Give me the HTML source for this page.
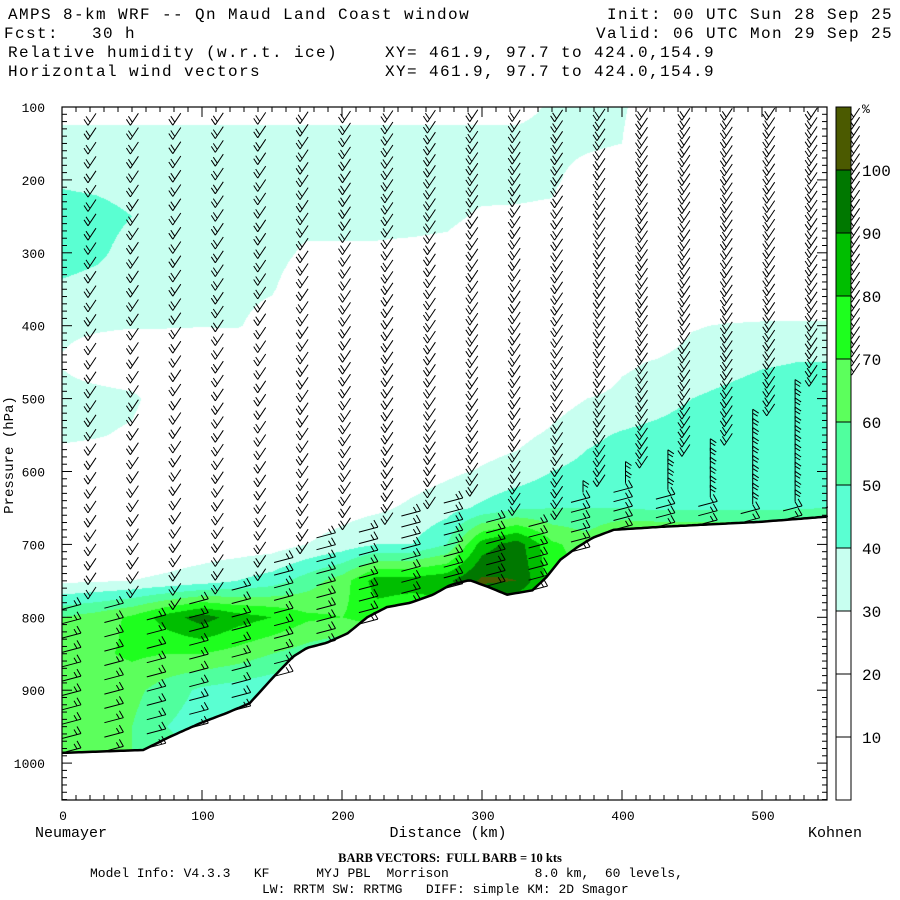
<!DOCTYPE html>
<html><head><meta charset="utf-8">
<style>
html,body{margin:0;padding:0;background:#fff;}
#wrap{position:relative;width:900px;height:900px;overflow:hidden;background:#fff;}
canvas{position:absolute;left:62px;top:107px;}
svg{position:absolute;left:0;top:0;}
text{font-family:"Liberation Mono",monospace;fill:#000;}
</style></head>
<body>
<div id="wrap">
<canvas id="rh" width="765" height="693"></canvas>
<svg id="svg" width="900" height="900">
<g font-size="16" letter-spacing="1.4">
<text x="8" y="19" xml:space="preserve">AMPS 8-km WRF -- Qn Maud Land Coast window</text>
<text x="893" y="19" text-anchor="end" xml:space="preserve">Init: 00 UTC Sun 28 Sep 25</text>
<text x="4" y="38" xml:space="preserve">Fcst:   30 h</text>
<text x="893" y="38" text-anchor="end" xml:space="preserve">Valid: 06 UTC Mon 29 Sep 25</text>
<text x="8" y="57">Relative humidity (w.r.t. ice)</text>
<text x="385" y="57">XY= 461.9, 97.7 to 424.0,154.9</text>
<text x="8" y="76">Horizontal wind vectors</text>
<text x="385" y="76">XY= 461.9, 97.7 to 424.0,154.9</text>
</g>
<g id="barbs"></g>
<g id="axes"></g>
<g id="cbar"></g>
<text x="13" y="455" font-size="14" text-anchor="middle" transform="rotate(-90 13 455)">Pressure (hPa)</text>
<text x="448" y="837" font-size="15" text-anchor="middle">Distance (km)</text>
<text x="35" y="837" font-size="15">Neumayer</text>
<text x="862" y="837" font-size="15" text-anchor="end">Kohnen</text>
<text x="450" y="862" font-size="12.5" text-anchor="middle" font-weight="bold" xml:space="preserve" style="font-family:'Liberation Serif',serif">BARB VECTORS:  FULL BARB = 10 kts</text>
<text x="90" y="877" font-size="13" xml:space="preserve">Model Info: V4.3.3   KF      MYJ PBL  Morrison           8.0 km,  60 levels,</text>
<text x="262" y="893" font-size="13" xml:space="preserve">LW: RRTM SW: RRTMG   DIFF: simple KM: 2D Smagor</text>
</svg>
</div>
<script>
// ---- data ----
const distKm = [0,25,50,75,100,125,150,175,200,225,250,275,300,325,350,375,400,425,450,475,500,525,550];
const presLev = [100,150,200,250,300,350,400,450,500,550,600,650,700,750,800,850,900,950,1000];
const rh100 = [25,25,25,25,25,25,25,25,25,25,25,25,25,25,32,32,32,20,15,15,15,15,15];
const rh150 = [35,35,35,35,35,35,35,35,35,35,35,35,35,35,35,33,30,15,15,15,15,15,15];
const rh200 = [38,37,35,35,35,35,35,35,35,35,35,35,35,34,33,22,18,15,15,15,15,15,15];
const rh250 = [46,44,40,35,34,34,34,34,34,34,34,33,28,28,27,15,15,15,15,15,15,15,15];
const rh300 = [45,42,36,34,34,34,34,28,28,28,27,26,20,20,20,15,15,15,15,15,15,15,15];
const rh350 = [38,36,34,33,33,33,31,22,20,20,20,18,15,15,15,15,15,15,15,15,15,15,15];
const rh400 = [33,32,31,31,30.5,31,25,18,15,15,15,15,15,15,15,15,15,20,29,31,32,32,32];
const rh450 = [29,22,18,18,18,18,15,15,15,15,15,15,15,15,15,18,28,31,35,37,39,40,40];
const rh500 = [35,35,33,22,18,15,15,15,15,15,15,15,15,15,25,30,33,36,40,42,44,45,46];
const rh550 = [33,31,28,20,15,15,15,15,15,15,15,15,25,27,32,38,41,43,45,46,47,48,48];
const rh600 = [20,20,20,18,18,18,18,18,18,20,25,28,31,34,40,43,45,46,46,47,47,48,48];
const rh650 = [20,20,20,20,20,20,22,24,26,28,32,36,42,48,50,50,50,48,48,48,48,49,50];
const rh700 = [22,22,22,23,24,24,25,30,34,40,40,50,85,95,72,65,80,80,80,80,80,82,85];
const rh750 = [28,29,30,32,35,40,45,55,65,85,85,88,102,100,75,70,80,80,80,80,80,80,80];
const rh800 = [60,65,72,85,95,85,80,72,70,75,70,70,80,70,70,70,70,70,70,70,70,70,70];
const rh850 = [65,68,72,70,70,66,60,55,50,50,50,50,50,50,50,50,50,50,50,50,50,50,50];
const rh900 = [62,62,63,55,48,45,42,42,42,42,42,42,42,42,42,42,42,42,42,42,42,42,42];
const rh950 = [65,65,60,50,45,45,45,45,45,45,45,45,45,45,45,45,45,45,45,45,45,45,45];
const rh1000 = [72,68,60,55,50,50,50,50,50,50,50,50,50,50,50,50,50,50,50,50,50,50,50];
const terrKm = [0,58,77,99,118,134,151,165,175,189,204,218,232,249,265,277,291,304,318,336,346,356,368,379,394,427,499,546];
const terrP  = [986,982,964,945,931,918,882,854,842,835,822,800,786,780,769,756,749,758,769,763,745,721,704,691,680,676,669,662];
const barbKm = [0,30.3,60.6,90.9,121.2,151.5,181.8,212.1,242.4,272.7,303,333.3,363.6,393.9,424.2,454.5,484.8,515.1,545.4];
const lowDepth = [200,200,190,180,170,160,150,140,130,120,100,90,80,60,40,30,20,20,20];
const vertTopP = [0,0,0,0,0,0,0,0,0,0,0,0,620,600,580,560,520,480,470];
const cbLevels = [10,20,30,40,50,60,70,80,90,100];
const cbColors = ["#ffffff","#ffffff","#ffffff","#c8fff0","#5affd2","#50ff9e","#5cff5c","#1eff1e","#00be00","#007800","#4b5a00"];

const rhGrid = [rh100,rh150,rh200,rh250,rh300,rh350,rh400,rh450,rh500,rh550,rh600,rh650,rh700,rh750,rh800,rh850,rh900,rh950,rh1000];

// ---- scales ----
const X0=62, X1=827, Y0=107, Y1=800;
const xS = km => X0 + km*1.4;
const yS = p => Y0 + (p-100)*0.729;
const NS="http://www.w3.org/2000/svg";

function interp1(xs, ys, x){
  if(x<=xs[0]) return ys[0];
  for(let i=1;i<xs.length;i++){ if(x<=xs[i]){const t=(x-xs[i-1])/(xs[i]-xs[i-1]);return ys[i-1]+t*(ys[i]-ys[i-1]);} }
  return ys[ys.length-1];
}
const terrain = km => interp1(terrKm, terrP, km);
function rhAt(km,p){
  let fi=Math.max(0,Math.min(distKm.length-1.0001,km/25));
  let fj=Math.max(0,Math.min(presLev.length-1.0001,(p-100)/50));
  const i=Math.floor(fi), j=Math.floor(fj), tx=fi-i, ty=fj-j;
  const a=rhGrid[j][i], b=rhGrid[j][i+1], c=rhGrid[j+1][i], d=rhGrid[j+1][i+1];
  return (a*(1-tx)+b*tx)*(1-ty)+(c*(1-tx)+d*tx)*ty;
}
function colorFor(v){
  let k=0; while(k<cbLevels.length && v>=cbLevels[k]) k++;
  return cbColors[k];
}
function hex(c){return [parseInt(c.substr(1,2),16),parseInt(c.substr(3,2),16),parseInt(c.substr(5,2),16)];}

// ---- RH field ----
(function(){
  const cv=document.getElementById('rh'), ctx=cv.getContext('2d');
  const W=cv.width,H=cv.height, img=ctx.createImageData(W,H);
  for(let px=0;px<W;px++){
    const km=(px+0.5)/1.4, ps=terrain(km);
    for(let py=0;py<H;py++){
      const p=100+(py+0.5)/0.729; let rgb=[255,255,255];
      if(p<=ps) rgb=hex(colorFor(rhAt(km,p)));
      const o=(py*W+px)*4; img.data[o]=rgb[0];img.data[o+1]=rgb[1];img.data[o+2]=rgb[2];img.data[o+3]=255;
    }
  }
  ctx.putImageData(img,0,0);
})();

// ---- barbs ----
(function(){
  const g=document.getElementById('barbs');
  const f=v=>v.toFixed(1);
  for(let i=0;i<barbKm.length;i++){
    const km=barbKm[i], ps=terrain(km), x=xS(km);
    for(let k=0;k<45;k++){
      const p=ps-k*(ps-100)/45, y=yS(p);
      const low=p>ps-lowDepth[i];
      let d;
      if(low){
        const ex=x+19, ey=y-5;
        d=`M${f(x)} ${f(y)}L${f(ex)} ${f(ey)}M${f(ex)} ${f(ey)}l-4 -7M${f(ex-4)} ${f(ey+1)}l-3 -5`;
      } else if(vertTopP[i]>0 && p>vertTopP[i]){
        const bx=x+12;
        d=`M${f(bx)} ${f(y)}L${f(bx)} ${f(y-12)}M${f(bx)} ${f(y-12)}l6 4M${f(bx)} ${f(y-8)}l5 3`;
      } else {
        const ax=x+26, ay=y+4, bx=x+34, by=y-8;
        d=`M${f(ax)} ${f(ay)}L${f(bx)} ${f(by)}M${f(ax)} ${f(ay)}l-4 -6M${f(ax+2)} ${f(ay-3)}l-4 -6`;
      }
      const path=document.createElementNS(NS,'path');
      path.setAttribute('d',d);path.setAttribute('stroke','#000');path.setAttribute('stroke-width','1');path.setAttribute('fill','none');
      
      
      g.appendChild(path);
    }
  }
  let pts=[];
  for(let km=0;km<=546;km+=2){pts.push(xS(km).toFixed(1)+','+yS(terrain(km)).toFixed(1));}
  const pl=document.createElementNS(NS,'polyline');
  pl.setAttribute('points',pts.join(' '));pl.setAttribute('stroke','#000');pl.setAttribute('stroke-width','2.5');pl.setAttribute('fill','none');
  
  
  g.appendChild(pl);
})();

// ---- axes ----
(function(){
  const g=document.getElementById('axes');
  function line(x1,y1,x2,y2,name,w){
    const l=document.createElementNS(NS,'line');
    l.setAttribute('x1',x1);l.setAttribute('y1',y1);l.setAttribute('x2',x2);l.setAttribute('y2',y2);
    l.setAttribute('stroke','#000');l.setAttribute('stroke-width',w||1);
    
    
    g.appendChild(l);
  }
  function txt(x,y,s,anchor,name,fs){
    const t=document.createElementNS(NS,'text');
    t.setAttribute('x',x);t.setAttribute('y',y);t.setAttribute('text-anchor',anchor);t.setAttribute('font-size',fs||13);
    t.textContent=s;
    
    
    g.appendChild(t);
  }
  const wb=document.createElementNS(NS,'rect');
  wb.setAttribute('x',X1+1);wb.setAttribute('y',Y0-10);wb.setAttribute('width',8);wb.setAttribute('height',Y1-Y0+20);wb.setAttribute('fill','#fff');
  
  
  g.appendChild(wb);
  const wt=document.createElementNS(NS,'rect');
  wt.setAttribute('x',X0);wt.setAttribute('y',Y0-12);wt.setAttribute('width',X1-X0+10);wt.setAttribute('height',11);wt.setAttribute('fill','#fff');
  
  
  g.appendChild(wt);
  const r=document.createElementNS(NS,'rect');
  r.setAttribute('x',X0);r.setAttribute('y',Y0);r.setAttribute('width',X1-X0);r.setAttribute('height',Y1-Y0);
  r.setAttribute('fill','none');r.setAttribute('stroke','#000');r.setAttribute('stroke-width','1.2');
  
  
  g.appendChild(r);
  for(let p=100;p<=1050;p+=10){
    const y=yS(p), len=(p%100==0)?10:5;
    line(X0,y,X0+len,y,'y-tick');
    line(X1,y,X1-len,y,'y-tick-right');
    if(p%100==0 && p<=1000) txt(45,y+5,String(p),'end','y-tick-label');
  }
  for(let km=0;km<=546;km+=10){
    const x=xS(km), len=(km%100==0)?10:5;
    line(x,Y1,x,Y1-len,'x-tick');
    line(x,Y0,x,Y0+len,'x-tick-top');
    if(km%100==0) txt(x+1,Y1+20,String(km),'middle','x-tick-label');
  }
  const cb=document.getElementById('cbar');
  const cy = L => 170 + (100-L)*6.3;
  const bounds=[Y0].concat(cbLevels.slice().reverse().map(cy)).concat([Y1]);
  const cols=cbColors.slice().reverse();
  for(let s=0;s<bounds.length-1;s++){
    const rr=document.createElementNS(NS,'rect');
    rr.setAttribute('x',836);rr.setAttribute('y',bounds[s]);rr.setAttribute('width',15);rr.setAttribute('height',bounds[s+1]-bounds[s]);
    rr.setAttribute('fill',cols[s]);rr.setAttribute('stroke','#000');rr.setAttribute('stroke-width','1');
    
    
    cb.appendChild(rr);
  }
  cbLevels.forEach(L=>{
    const t=document.createElementNS(NS,'text');
    t.setAttribute('x',862);t.setAttribute('y',cy(L)+6);t.setAttribute('font-size',16);
    t.textContent=String(L);
    
    
    cb.appendChild(t);
  });
  const pc=document.createElementNS(NS,'text');
  pc.setAttribute('x',862);pc.setAttribute('y',113);pc.setAttribute('font-size',13);pc.textContent='%';
  
  
  cb.appendChild(pc);
})();
</script>
</body></html>
